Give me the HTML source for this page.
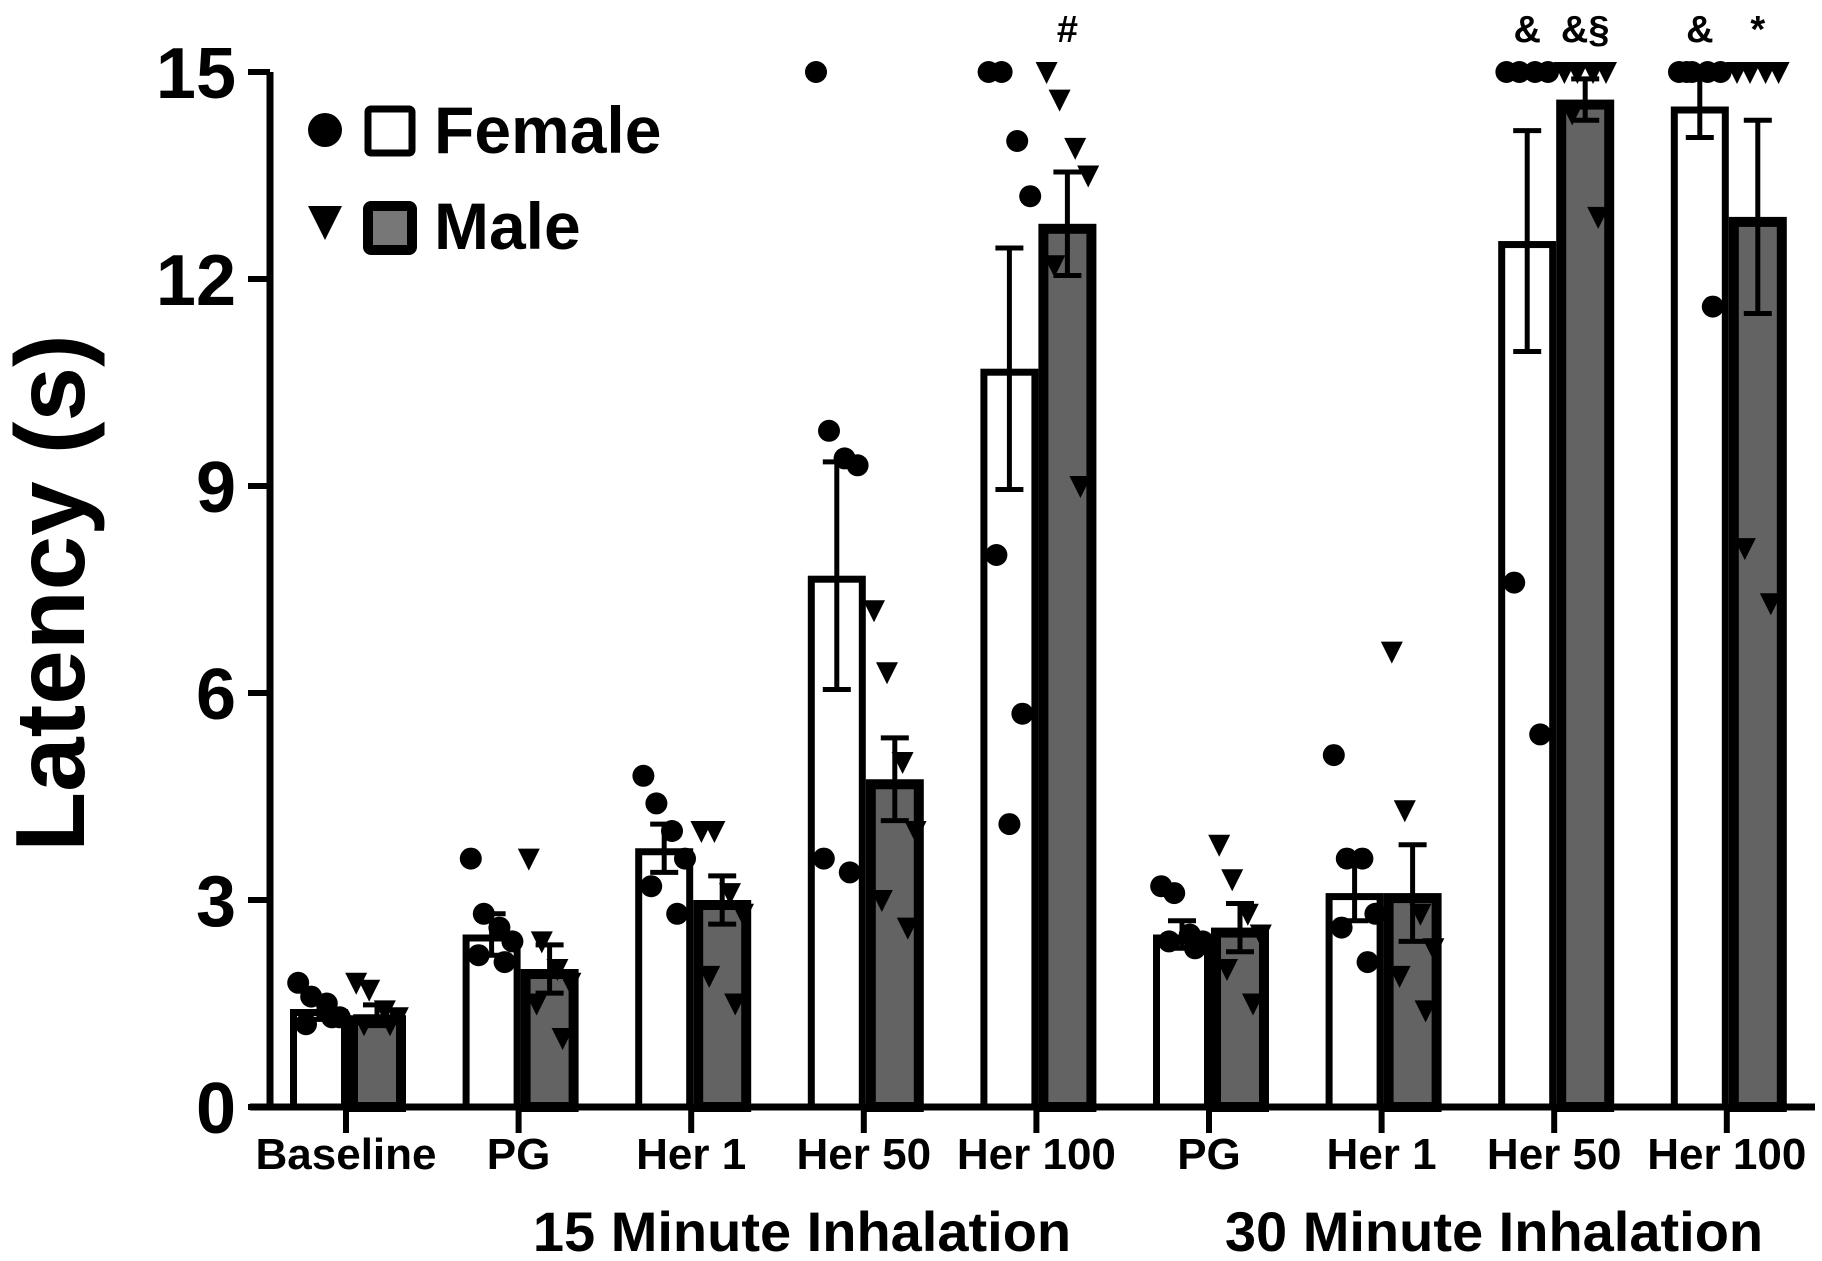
<!DOCTYPE html>
<html><head><meta charset="utf-8"><style>
html,body{margin:0;padding:0;background:#fff;}
svg{display:block;font-family:"Liberation Sans",Arial,sans-serif;font-weight:bold;}
</style></head><body>
<svg id="chart" width="1822" height="1261" viewBox="0 0 1822 1261" xmlns="http://www.w3.org/2000/svg">
<g id="g-bars"></g>
<g id="g-axes"></g>
<text x="0" y="0" transform="translate(84,593) rotate(-90)" text-anchor="middle" font-size="98">Latency (s)</text>
<text x="802" y="1251" text-anchor="middle" font-size="56">15 Minute Inhalation</text>
<text x="1494" y="1251" text-anchor="middle" font-size="56">30 Minute Inhalation</text>
<g>
<circle cx="325" cy="130" r="17" fill="#000"/>
<rect x="368" y="109" width="44" height="44" fill="#fff" stroke="#000" stroke-width="7" rx="3"/>
<text x="434" y="153" font-size="66">Female</text>
<path d="M308,206 L342,206 L325,240 Z" fill="#000"/>
<rect x="368" y="206" width="44" height="44" fill="#777" stroke="#000" stroke-width="10" rx="3"/>
<text x="434" y="249" font-size="66">Male</text>
</g>
</svg>
<script>
const categories = ["Baseline","PG","Her 1","Her 50","Her 100","PG","Her 1","Her 50","Her 100"];
const femaleMean = [1.42,2.5,3.75,7.7,10.7,2.5,3.1,12.55,14.5];
const femaleSem = [0.15,0.3,0.35,1.65,1.75,0.2,0.4,1.6,0.45];
const maleMean = [1.33,2.0,3.0,4.75,12.8,2.6,3.1,14.6,12.9];
const maleSem = [0.15,0.35,0.35,0.6,0.75,0.35,0.7,0.3,1.4];
const femalePoints = [
 [1.8,1.6,1.5,1.3,1.2,1.3],
 [3.6,2.8,2.6,2.4,2.2,2.1],
 [4.8,4.4,4.0,3.6,3.2,2.8],
 [15,9.8,9.4,9.3,3.6,3.4],
 [15,15,14.0,13.2,8.0,5.7,4.1],
 [3.2,3.1,2.5,2.4,2.4,2.3],
 [5.1,3.6,3.6,2.8,2.6,2.1],
 [15,15,15,15,7.6,5.4],
 [15,15,15,15,15,11.6]];
const malePoints = [
 [1.8,1.7,1.4,1.3,1.2,1.2],
 [3.6,2.4,2.0,1.8,1.5,1.0],
 [4.0,4.0,3.1,2.8,1.9,1.5],
 [7.2,6.3,5.0,4.0,3.0,2.6],
 [15,14.6,13.9,13.5,12.2,9.0],
 [3.8,3.3,2.8,2.5,2.0,1.5],
 [6.6,4.3,2.8,2.3,1.9,1.4],
 [15,15,15,15,14.4,12.9],
 [15,15,15,15,8.1,7.3]];
const yTicks = [0,3,6,9,12,15];
const annotations = [[4,"m","#"],[7,"f","&"],[7,"m","&§"],[8,"f","&"],[8,"m","*"]];

const NS="http://www.w3.org/2000/svg";
const X0=270, X1=1815, Y0=1107, Y15=72;
const y = v => Y0 - (v/15)*(Y0-Y15);
const xc = i => 346 + i*172.6;
const BW=58;
const gb=document.getElementById('g-bars'), ga=document.getElementById('g-axes');
function mk(tag, attrs, parent){const e=document.createElementNS(NS,tag);for(const k in attrs)e.setAttribute(k,attrs[k]);parent.appendChild(e);return e;}
const offs=[-16,-6,6,16,-10,10,0];
categories.forEach((c,i)=>{
  const cx=xc(i);
  [["f",femaleMean,femaleSem,femalePoints,cx-BW+2,"#fff",7],["m",maleMean,maleSem,malePoints,cx+2,"#636363",10]].forEach(([s,m,se,pts,bx,fill,sw])=>{
    const top=y(m[i]);
    const r=mk('rect',{x:bx+sw/2,y:top+sw/2,width:BW-sw,height:Y0-top-sw/2,fill:fill,stroke:'#000','stroke-width':sw},gb);
    
    
    const mid=bx+BW/2;
    const e=mk('path',{d:`M${mid},${y(m[i]+se[i])}V${y(m[i]-se[i])}M${mid-14},${y(m[i]+se[i])}H${mid+14}M${mid-14},${y(m[i]-se[i])}H${mid+14}`,stroke:'#000','stroke-width':5,fill:'none'},gb);
    
    
    pts[i].forEach((v,k)=>{
      const px=mid+offs[k%offs.length]*1.3, py=y(v);
      let p;
      if(s==='f') p=mk('circle',{cx:px,cy:py,r:11,fill:'#000'},gb);
      else p=mk('path',{d:`M${px-11},${py-10}L${px+11},${py-10}L${px},${py+12}Z`,fill:'#000'},gb);
      
      
    });
  });
  const t=mk('line',{x1:cx,x2:cx,y1:Y0,y2:Y0+26,stroke:'#000','stroke-width':6},ga);
  
  
  const l=mk('text',{x:cx,y:1169,'text-anchor':'middle','font-size':44},ga);
  l.textContent=c;
  
  
});
annotations.forEach(([i,s,txt])=>{
  const x=xc(i)+(s==='f'?-BW/2+2:BW/2+2);
  const a=mk('text',{x:x,y:42,'text-anchor':'middle','font-size':38},ga);
  a.textContent=txt;
  
  
});
const ax=mk('path',{d:`M${X0},${Y15}V${Y0}M${X0-20},${Y0}H${X1}`,stroke:'#000','stroke-width':7,fill:'none'},ga);


yTicks.forEach(v=>{
  const t=mk('line',{x1:X0-22,x2:X0,y1:y(v),y2:y(v),stroke:'#000','stroke-width':6},ga);
  
  
  const l=mk('text',{x:X0-34,y:y(v)+26,'text-anchor':'end','font-size':72},ga);
  l.textContent=v;
  
  
});
</script>
</body></html>
